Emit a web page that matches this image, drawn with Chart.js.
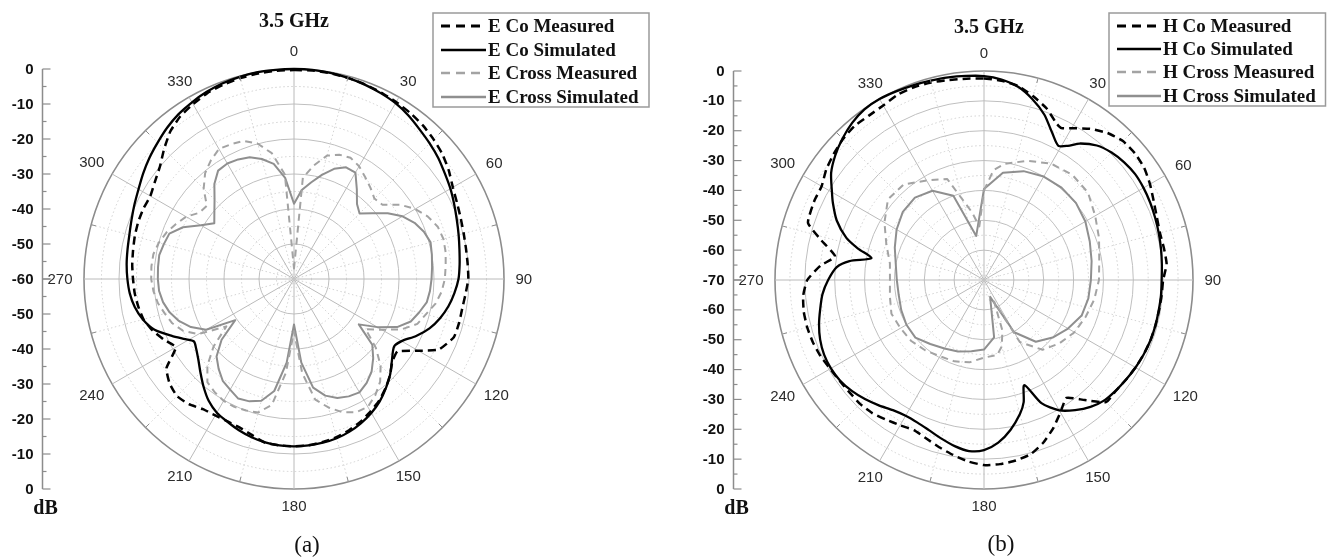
<!DOCTYPE html>
<html>
<head>
<meta charset="utf-8">
<script src="https://cdn.jsdelivr.net/npm/chart.js@4/dist/chart.umd.min.js"></script>
<style>
  html, body { margin: 0; padding: 0; background: #fff; }
  #wrap { position: relative; width: 1327px; height: 558px; overflow: hidden; background: #fff; }
  #wrap canvas { position: absolute; top: 0; }
  #chartE { left: 0; }
  #chartH { left: 663px; }
</style>
</head>
<body>
<div id="wrap">
  <canvas id="chartE" width="663" height="558"></canvas>
  <canvas id="chartH" width="664" height="558"></canvas>
</div>
<script>
// ---- angular categories (one per degree) and the labelled directions ----
const degrees = Array.from({ length: 360 }, (_, i) => i);
const angleLabels = [0, 30, 60, 90, 120, 150, 180, 210, 240, 270, 300, 330];

// ---- radial dB tick labels ----
const dbTicksE = [0, -10, -20, -30, -40, -50, -60];
const dbTicksH = [0, -10, -20, -30, -40, -50, -60, -70];

// ---- E-plane pattern, 3.5 GHz : [angle in degrees, level in dB] ----
const eCoMeasured = [
  [0,-0.3],[5,-0.2],[10,-0.3],[15,-0.5],[20,-0.8],[25,-1.2],[30,-1.6],[35,-2.1],[40,-2.7],[45,-3.6],
  [50,-4.6],[55,-6],[60,-7.6],[65,-8.6],[70,-9.3],[75,-9.8],[80,-10.1],[85,-10.2],[90,-10.2],[95,-10.8],
  [100,-11.2],[105,-11.2],[110,-11.4],[116,-14],[120,-19],[125,-23.9],[130,-23.3],[135,-21.2],[140,-19.3],
  [145,-17.6],[150,-16.3],[155,-15],[160,-14],[165,-13.2],[170,-12.7],[175,-12.3],[180,-12.2],[185,-12.3],
  [190,-12.5],[195,-13.8],[200,-14.8],[205,-15.1],[210,-15],[215,-14.6],[220,-13.3],[225,-12.7],[230,-13.6],
  [235,-15.5],[240,-21],[245,-19],[250,-17],[255,-15.5],[260,-14.8],[265,-14.3],[270,-14],[275,-13.6],
  [280,-13.3],[285,-12.9],[290,-12.6],[295,-12.5],[300,-12.6],[305,-11.5],[310,-10],[315,-7.5],[320,-5],
  [325,-3.3],[330,-2.3],[335,-1.4],[340,-0.9],[345,-0.6],[350,-0.4],[355,-0.3]
];
const eCoSimulated = [
  [0,0],[5,0],[10,-0.2],[15,-0.5],[20,-0.9],[25,-1.4],[30,-2],[35,-3],[40,-4.2],[45,-5.2],[50,-6.2],
  [55,-7.4],[60,-8.4],[65,-9.5],[70,-10.5],[75,-11.3],[80,-12],[85,-12.5],[90,-13],[95,-14],[100,-15.2],
  [105,-16.8],[110,-18.8],[115,-21.5],[120,-24.5],[124,-25.5],[130,-23.5],[135,-21.2],[140,-19.2],
  [145,-17.3],[150,-15.8],[155,-14.6],[160,-13.6],[165,-12.9],[170,-12.5],[175,-12.3],[180,-12.2],
  [185,-12.3],[190,-12.6],[195,-13.2],[200,-14],[205,-15],[210,-15.9],[215,-17.5],[220,-19.8],[225,-22.2],
  [230,-24.3],[235,-25.8],[238,-26.3],[241,-24.5],[245,-21.5],[250,-17.6],[255,-15.3],[260,-13.8],
  [265,-12.9],[270,-12.4],[275,-12],[280,-11.7],[285,-11.3],[290,-10.6],[295,-9.7],[300,-8.7],[305,-7.4],
  [310,-6.1],[315,-4.9],[320,-3.6],[325,-2.5],[330,-1.7],[335,-1],[340,-0.5],[345,-0.2],[350,0],[355,0]
];
const eCrossMeasured = [
  [0,-57],[5,-31],[10,-27],[15,-23.5],[20,-22.2],[25,-21.8],[30,-22.8],[35,-24.5],[40,-26],[45,-27.5],
  [50,-27],[55,-23],[60,-20],[65,-17.8],[70,-16.3],[75,-15.8],[80,-16],[85,-16.5],[90,-16.9],[95,-17.7],
  [100,-19],[105,-21],[110,-22.5],[115,-26],[120,-31],[125,-35],[130,-29.5],[135,-25],[140,-21.7],
  [145,-19.5],[150,-17.8],[155,-18],[160,-19.5],[165,-22],[170,-25],[175,-33],[180,-45],[185,-33],
  [190,-23.5],[195,-20.5],[200,-20],[205,-19.7],[210,-19.8],[215,-20.5],[220,-21.5],[225,-25],[230,-30],
  [235,-36.4],[240,-28.5],[245,-25],[250,-23],[255,-21.8],[260,-20.5],[265,-19.7],[270,-19.2],[275,-19.1],
  [280,-19.2],[285,-20],[290,-21.2],[295,-22.8],[300,-24.4],[305,-27],[310,-27.5],[315,-23.5],[320,-20.5],
  [325,-18.6],[330,-17.1],[335,-17.5],[340,-18],[345,-20],[350,-23.5],[355,-30]
];
const eCrossSimulated = [
  [0,-38.5],[5,-34.5],[10,-32],[15,-29.2],[20,-26.5],[25,-24.8],[30,-24.9],[35,-28.7],[40,-32],[45,-33.5],
  [50,-30.8],[55,-27.3],[60,-24.2],[65,-22],[70,-20.5],[75,-19.6],[80,-20],[85,-20.4],[90,-20.7],[95,-21],
  [100,-21.5],[105,-23],[110,-24.5],[115,-27.5],[120,-32.5],[125,-37.4],[130,-30.8],[135,-28],[140,-25.5],
  [145,-23.8],[150,-22.6],[155,-23],[160,-23.8],[165,-25.5],[170,-28.5],[175,-36],[180,-47],[185,-36],
  [190,-27.5],[195,-24],[200,-22.8],[205,-22.3],[210,-23.5],[215,-24.5],[220,-26.5],[225,-28.7],[230,-33],
  [235,-39.5],[240,-31],[245,-27.5],[250,-25],[255,-23.2],[260,-22],[265,-21.3],[270,-21.1],[275,-21],
  [280,-20.9],[285,-21.5],[290,-22.1],[295,-25],[300,-29.3],[305,-32.2],[310,-30.3],[315,-27.9],[320,-24.6],
  [325,-22.2],[330,-21.9],[335,-22.3],[340,-23],[345,-24.5],[350,-26.6],[355,-31]
];

// ---- H-plane pattern, 3.5 GHz : [angle in degrees, level in dB] ----
const hCoMeasured = [
  [0,-2.5],[5,-3],[10,-4],[15,-6.3],[20,-8.8],[25,-12.3],[27,-12.9],[30,-11.3],[35,-8.2],[40,-5.7],
  [45,-4.2],[50,-4],[55,-4.5],[60,-5.8],[65,-7.3],[70,-8.4],[75,-9],[80,-8.8],[85,-8.6],[90,-10],
  [95,-10.3],[100,-10.5],[105,-10.6],[110,-10.7],[115,-11],[120,-11.4],[125,-11.9],[130,-12.3],[135,-12.2],
  [140,-17.5],[145,-21.8],[150,-18.8],[155,-15.2],[160,-12],[165,-9.6],[170,-8.6],[175,-8.1],[180,-8],
  [185,-9],[190,-10.5],[195,-12],[200,-13.5],[205,-14.5],[210,-13.8],[215,-12.9],[220,-11.8],[225,-11.3],
  [230,-11.3],[235,-11],[240,-10.5],[245,-9.6],[250,-9],[255,-8.7],[260,-8.7],[265,-9.2],[270,-10.8],
  [275,-15],[279,-19.5],[284,-13.5],[288,-8],[295,-7.3],[300,-7.2],[305,-5.5],[310,-4.3],[315,-3.2],
  [320,-2.6],[325,-2.8],[330,-2.5],[335,-1.5],[340,-1.3],[345,-1.5],[350,-2],[355,-2.3]
];
const hCoSimulated = [
  [0,-1.7],[5,-2.6],[10,-4.3],[15,-7.3],[20,-11],[25,-15.8],[29,-18.6],[32,-17],[35,-14.2],[40,-11.2],
  [45,-9.6],[50,-8.7],[55,-8.2],[60,-8.3],[65,-8.6],[70,-9],[75,-9.4],[80,-9.8],[85,-10.2],[90,-10.5],
  [95,-10.5],[100,-10.6],[105,-10.6],[110,-10.7],[115,-11],[120,-11.4],[125,-11.9],[130,-12.4],[135,-13],
  [140,-14.5],[145,-16.8],[150,-19.6],[155,-24.5],[159,-32.3],[162,-27],[165,-23.5],[170,-19],[175,-15.3],
  [180,-13],[185,-12.5],[190,-13.5],[195,-15],[200,-16.4],[205,-17.3],[210,-17.5],[215,-16.8],[220,-15.2],
  [225,-13.6],[230,-12.2],[235,-11.2],[240,-10.8],[245,-10.9],[250,-11.6],[255,-12.8],[260,-14.3],
  [265,-15.7],[270,-17.8],[275,-20.5],[278,-24.5],[281,-31.6],[284,-26.5],[287,-21.8],[292,-16.8],
  [297,-13.2],[300,-11.2],[305,-7.5],[310,-5],[315,-3],[320,-1.3],[325,-0.2],[330,0],[335,-0.3],
  [340,-0.6],[345,-0.9],[350,-1.1],[355,-1.4]
];
const hCrossMeasured = [
  [0,-40],[5,-33],[10,-30.5],[20,-27.5],[30,-25],[40,-24],[50,-24.5],[60,-27],[70,-29],[80,-30.8],
  [90,-31.5],[100,-32.5],[110,-33.8],[120,-35],[130,-37],[140,-39.5],[150,-46],[155,-62],[160,-52],
  [165,-47],[170,-44.5],[180,-44],[190,-42],[200,-41],[210,-40.5],[220,-39.3],[230,-38.2],[240,-37.7],
  [250,-37],[260,-38],[270,-38.5],[280,-38],[290,-35.2],[300,-31.5],[310,-28],[320,-28.2],[330,-31.5],
  [340,-34],[350,-47],[355,-52]
];
const hCrossSimulated = [
  [0,-39.5],[10,-33.5],[20,-31.2],[30,-30],[40,-29.6],[50,-29.8],[60,-30.8],[70,-32.3],[80,-33.4],
  [90,-34.2],[100,-34.5],[110,-35.2],[120,-37.5],[130,-40],[140,-43],[150,-49.8],[160,-64],[170,-50.5],
  [180,-46.7],[190,-45.8],[200,-44.5],[210,-43.5],[220,-42],[230,-40],[240,-40],[250,-40.5],[260,-41],
  [270,-40.8],[280,-40],[290,-38.2],[300,-36.2],[310,-34.5],[320,-34],[330,-35.5],[340,-40],[350,-55]
];

// ---- series styles ----
const STYLE = {
  coMeas:    { color: '#000000', width: 2.5, dash: [8, 5] },
  coSim:     { color: '#000000', width: 2.3, dash: [] },
  crossMeas: { color: '#a3a3a3', width: 2.0, dash: [7, 5] },
  crossSim:  { color: '#8f8f8f', width: 2.0, dash: [] }
};

function toDegreeSeries(pairs) {
  const out = new Array(degrees.length).fill(null);
  pairs.forEach(([a, v]) => { out[a] = v; });
  return out;
}

function dataset(label, pairs, style, tension) {
  return {
    label,
    data: toDegreeSeries(pairs),
    borderColor: style.color,
    borderWidth: style.width,
    borderDash: style.dash,
    borderJoinStyle: 'round',
    pointRadius: 0,
    pointHoverRadius: 0,
    fill: false,
    spanGaps: true,
    tension
  };
}

function radialScale(minDb) {
  return {
    min: minDb,
    max: 0,
    startAngle: 0,
    ticks: { display: false, stepSize: 5 },
    pointLabels: { display: false },
    grid: {
      circular: true,
      color: (c) => {
        const v = c.tick ? c.tick.value : 1;
        if (v === 0) return '#8c8c8c';
        return v % 10 === 0 ? '#bfbfbf' : '#d0d0d0';
      },
      lineWidth: (c) => (c.tick && c.tick.value === 0 ? 1.6 : 1)
    },
    border: {
      dash: (c) => (c.tick && c.tick.value % 10 !== 0 ? [1.5, 2.5] : [])
    },
    angleLines: {
      color: (c) => (c.index % 30 === 0 ? '#bababa' : '#d4d4d4'),
      lineWidth: (c) => (c.index % 15 === 0 ? 1 : 0),
      borderDash: (c) => (c.index % 30 === 0 ? [] : [1.5, 2.5])
    }
  };
}

// Title, legend box, angle labels, dB axis and caption around the polar grid.
function decorations(cfg) {
  return {
    id: 'decorations',
    afterDraw(chart) {
      const ctx = chart.ctx;
      const r = chart.scales.r;
      const R = r.drawingArea;
      ctx.save();

      // short marks on the outer ring between the labelled spokes
      ctx.strokeStyle = '#8c8c8c';
      ctx.lineWidth = 1;
      for (let a = 15; a < 360; a += 30) {
        const p0 = r.getPointPosition(a, R - 5);
        const p1 = r.getPointPosition(a, R);
        ctx.beginPath();
        ctx.moveTo(p0.x, p0.y);
        ctx.lineTo(p1.x, p1.y);
        ctx.stroke();
      }

      // angle labels just outside the outer ring
      ctx.font = '15px "Liberation Sans", Arial, sans-serif';
      ctx.fillStyle = '#2b2b2b';
      ctx.textAlign = 'center';
      ctx.textBaseline = 'middle';
      angleLabels.forEach((a) => {
        const txt = String(a);
        const w = ctx.measureText(txt).width;
        const th = a * Math.PI / 180;
        const s = Math.abs(Math.sin(th)), co = Math.abs(Math.cos(th));
        const ext = Math.min(s > 1e-6 ? (w / 2) / s : 1e9, co > 1e-6 ? 6 / co : 1e9);
        const p = r.getPointPosition(a, R + 11.5 + ext);
        ctx.fillText(txt, p.x, p.y + 0.5);
      });

      // vertical dB axis mirrored about the centre
      const ax = cfg.axisX;
      const top = r.yCenter - r.getDistanceFromCenterForValue(0);
      const bot = r.yCenter + r.getDistanceFromCenterForValue(0);
      ctx.strokeStyle = '#8c8c8c';
      ctx.lineWidth = 1.5;
      ctx.beginPath();
      ctx.moveTo(ax, top);
      ctx.lineTo(ax, bot);
      ctx.stroke();
      ctx.lineWidth = 1.2;
      for (let v = 0; v >= r.min; v -= 5) {
        const d = r.getDistanceFromCenterForValue(v);
        const len = v % 10 === 0 ? 8 : 4;
        [r.yCenter - d, r.yCenter + d].forEach((y) => {
          ctx.beginPath();
          ctx.moveTo(ax, y);
          ctx.lineTo(ax + len, y);
          ctx.stroke();
        });
      }
      ctx.font = 'bold 15px "Liberation Sans", Arial, sans-serif';
      ctx.fillStyle = '#111';
      ctx.textAlign = 'right';
      cfg.dbTicks.forEach((v) => {
        const d = r.getDistanceFromCenterForValue(v);
        const ys = d === 0 ? [r.yCenter] : [r.yCenter - d, r.yCenter + d];
        ys.forEach((y) => ctx.fillText(String(v), ax - 9, y + 0.5));
      });
      ctx.font = 'bold 20px "Liberation Serif", "Times New Roman", serif';
      ctx.textAlign = 'center';
      ctx.fillText('dB', ax + 3, bot + 20);

      // title
      ctx.font = 'bold 20px "Liberation Serif", "Times New Roman", serif';
      ctx.fillStyle = '#111';
      ctx.textAlign = 'center';
      ctx.fillText(cfg.title, cfg.titleX, cfg.titleY);

      // caption
      ctx.font = '23px "Liberation Serif", "Times New Roman", serif';
      ctx.fillText(cfg.caption, cfg.captionX, cfg.captionY);

      // legend box
      const L = cfg.legend;
      ctx.strokeStyle = '#9a9a9a';
      ctx.lineWidth = 1.5;
      ctx.strokeRect(L.x, L.y, L.w, L.h);
      ctx.font = 'bold 19px "Liberation Serif", "Times New Roman", serif';
      ctx.textAlign = 'left';
      chart.data.datasets.forEach((ds, i) => {
        const y = L.rowY[i];
        ctx.save();
        ctx.strokeStyle = ds.borderColor;
        ctx.lineWidth = ds.borderWidth + 0.3;
        ctx.setLineDash(ds.borderDash.length ? [9, 6] : []);
        ctx.beginPath();
        ctx.moveTo(L.lineX0, y);
        ctx.lineTo(L.lineX1, y);
        ctx.stroke();
        ctx.restore();
        ctx.fillStyle = '#111';
        ctx.fillText(ds.label, L.textX, y + 1);
      });

      ctx.restore();
    }
  };
}

function makeChart(id, minDb, sets, cfg) {
  return new Chart(document.getElementById(id), {
    type: 'radar',
    data: { labels: degrees, datasets: sets },
    options: {
      responsive: false,
      animation: false,
      events: [],
      layout: { padding: cfg.padding },
      elements: { line: { borderCapStyle: 'butt' } },
      plugins: { legend: { display: false }, tooltip: { enabled: false }, title: { display: false } },
      scales: { r: radialScale(minDb) }
    },
    plugins: [decorations(cfg)]
  });
}

makeChart('chartE', -60, [
  dataset('E Co Measured', eCoMeasured, STYLE.coMeas, 0.15),
  dataset('E Co Simulated', eCoSimulated, STYLE.coSim, 0.25),
  dataset('E Cross Measured', eCrossMeasured, STYLE.crossMeas, 0),
  dataset('E Cross Simulated', eCrossSimulated, STYLE.crossSim, 0)
], {
  padding: { left: 84, top: 69, right: 159, bottom: 69 },
  axisX: 42.5,
  dbTicks: dbTicksE,
  title: '3.5 GHz', titleX: 294, titleY: 22,
  caption: '(a)', captionX: 307, captionY: 546,
  legend: { x: 433, y: 13, w: 216, h: 94, rowY: [26, 50, 73, 97], lineX0: 441, lineX1: 486, textX: 488 }
});

makeChart('chartH', -70, [
  dataset('H Co Measured', hCoMeasured, STYLE.coMeas, 0.15),
  dataset('H Co Simulated', hCoSimulated, STYLE.coSim, 0.25),
  dataset('H Cross Measured', hCrossMeasured, STYLE.crossMeas, 0),
  dataset('H Cross Simulated', hCrossSimulated, STYLE.crossSim, 0)
], {
  padding: { left: 112, top: 71, right: 134, bottom: 69 },
  axisX: 70.5,
  dbTicks: dbTicksH,
  title: '3.5 GHz', titleX: 326, titleY: 28,
  caption: '(b)', captionX: 338, captionY: 545,
  legend: { x: 446, y: 13, w: 216.5, h: 93, rowY: [26, 49, 72, 96], lineX0: 454, lineX1: 498, textX: 500 }
});
</script>
</body>
</html>
